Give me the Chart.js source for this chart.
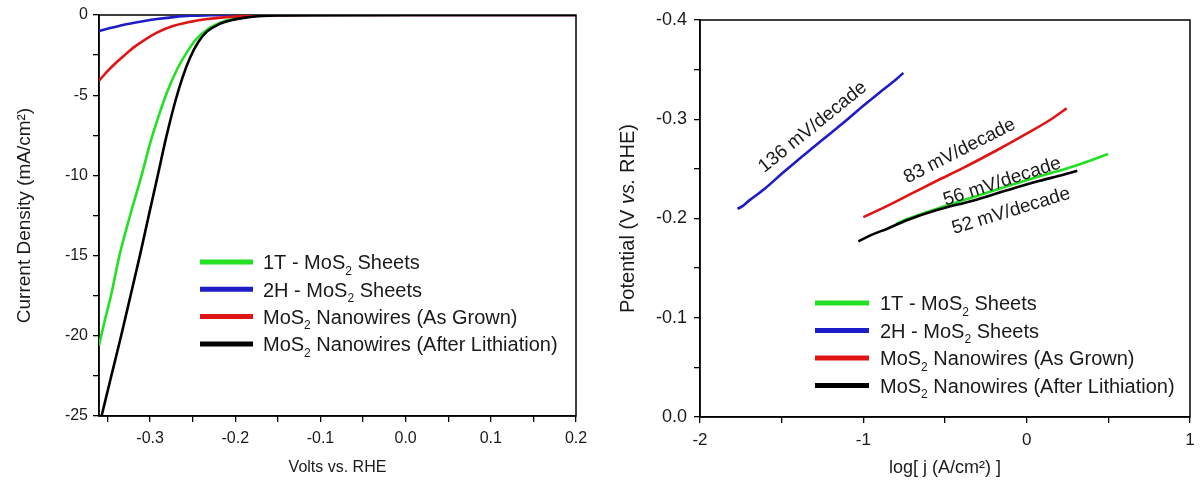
<!DOCTYPE html>
<html>
<head>
<meta charset="utf-8">
<script src="https://cdn.jsdelivr.net/npm/chart.js@4/dist/chart.umd.min.js"></script>
<style>
html,body{margin:0;padding:0;background:#fff;}
#wrap{position:relative;width:1203px;height:480px;overflow:hidden;background:#fff;}
.pane{position:absolute;top:0;height:480px;}
canvas{display:block;}
</style>
</head>
<body>
<div id="wrap">
  <div class="pane" style="left:0;width:600px"><canvas id="c1" width="600" height="480"></canvas></div>
  <div class="pane" style="left:600px;width:603px"><canvas id="c2" width="603" height="480"></canvas></div>
</div>
<script>
// ---------- DATA ----------
const seriesNames = ['1T - MoS₂ Sheets', '2H - MoS₂ Sheets', 'MoS₂ Nanowires (As Grown)', 'MoS₂ Nanowires (After Lithiation)'];

// Left panel: polarization curves [Volts vs RHE, mA/cm²]
const lsv1T = [[-0.36,-20.6],[-0.353,-19],[-0.346,-17.5],[-0.336,-15],[-0.3235,-12.5],[-0.31,-10],[-0.3,-8.0],[-0.29,-6.3],[-0.28,-4.8],[-0.268,-3.35],[-0.256,-2.25],[-0.245,-1.45],[-0.23,-0.8],[-0.214,-0.4],[-0.195,-0.18],[-0.174,-0.06],[-0.15,-0.02],[-0.1,0],[-0.005,0]];
const lsv2H = [[-0.36,-1.0],[-0.35,-0.86],[-0.332,-0.62],[-0.31,-0.4],[-0.292,-0.25],[-0.272,-0.13],[-0.253,-0.05],[-0.23,-0.02],[-0.2,0],[0.2,0]];
const lsvNWGrown = [[-0.36,-4.1],[-0.35,-3.5],[-0.34,-2.98],[-0.332,-2.6],[-0.32,-2.05],[-0.305,-1.5],[-0.292,-1.1],[-0.275,-0.72],[-0.253,-0.43],[-0.235,-0.27],[-0.214,-0.15],[-0.19,-0.07],[-0.16,-0.02],[-0.1,0],[0.2,0]];
const lsvNWLith = [[-0.357,-25],[-0.346,-22.6],[-0.334,-20],[-0.323,-17.5],[-0.312,-15],[-0.302,-12.6],[-0.291,-10],[-0.281,-7.6],[-0.27,-5.3],[-0.262,-3.9],[-0.253,-2.65],[-0.243,-1.65],[-0.233,-1.02],[-0.22,-0.6],[-0.206,-0.35],[-0.19,-0.18],[-0.174,-0.08],[-0.15,-0.03],[-0.1,-0.01],[0.0,0],[0.2,0]];

// Right panel: Tafel plots [log j, Potential V vs RHE]
const tafel1T = [[-0.8,-0.1945],[-0.73,-0.1995],[-0.5,-0.2125],[-0.3,-0.223],[-0.12,-0.2325],[0.1,-0.2435],[0.284,-0.2525],[0.4,-0.259],[0.498,-0.265]];
const tafel2H = [[-1.77,-0.2097],[-1.74,-0.2125],[-1.7,-0.218],[-1.6,-0.2305],[-1.5,-0.245],[-1.4,-0.259],[-1.3,-0.2725],[-1.2,-0.286],[-1.1,-0.2995],[-1.0,-0.3135],[-0.9,-0.327],[-0.8,-0.34],[-0.755,-0.3467]];
const tafelNWGrown = [[-1.0,-0.2014],[-0.85,-0.213],[-0.7,-0.2255],[-0.55,-0.238],[-0.4,-0.25],[-0.18,-0.269],[0.0,-0.2855],[0.15,-0.3],[0.245,-0.311]];
const tafelNWLith = [[-1.03,-0.177],[-0.95,-0.1835],[-0.85,-0.19],[-0.73,-0.1985],[-0.55,-0.2085],[-0.33,-0.218],[-0.12,-0.2285],[0.08,-0.238],[0.2,-0.243],[0.31,-0.248]];
const tafelSlopeLabels = ['56 mV/decade', '136 mV/decade', '83 mV/decade', '52 mV/decade'];

// Ticks
const lsvXMajor = [-0.3,-0.2,-0.1,0.0,0.1,0.2];
const lsvXMinor = [-0.35,-0.25,-0.15,-0.05,0.05,0.15];
const lsvYMajor = [0,-5,-10,-15,-20,-25];
const lsvYMinor = [-2.5,-7.5,-12.5,-17.5,-22.5];
const tafelXMajor = [-2,-1,0,1];
const tafelXMinor = [-1.5,-0.5,0.5];
const tafelYMajor = [-0.4,-0.3,-0.2,-0.1,0.0];
const tafelYMinor = [-0.35,-0.25,-0.15,-0.05];

// ---------- STYLE / HELPERS ----------
const seriesColors = ['#22e022', '#1c1cc8', '#e01414', '#000000'];
const FONT = '"Liberation Sans", Arial, Helvetica, sans-serif';
const TXT = '#1a1a1a';

function toXY(arr){ return arr.map(p => ({x:p[0], y:p[1]})); }
function tickList(major, minor){ return major.concat(minor).sort((a,b)=>a-b).map(v => ({value:v})); }
function isMajor(v, major){ return major.some(m => Math.abs(m - v) < 1e-9); }

function parseRich(text){
  const segs = []; let buf = '';
  for (const ch of text){
    if (ch === '₂'){ if (buf) segs.push({t:buf,k:'n'}); buf=''; segs.push({t:'2',k:'sub'}); }
    else if (ch === '²'){ if (buf) segs.push({t:buf,k:'n'}); buf=''; segs.push({t:'2',k:'sup'}); }
    else buf += ch;
  }
  if (buf) segs.push({t:buf,k:'n'});
  return segs;
}
function segFont(s, size){
  if (s.k === 'sub' || s.k === 'sup') return Math.round(size*0.62) + 'px ' + FONT;
  if (s.k === 'it') return 'italic ' + size + 'px ' + FONT;
  return size + 'px ' + FONT;
}
function drawSegments(ctx, segs, x, y, size, align){
  const widths = segs.map(s => { ctx.font = segFont(s,size); return ctx.measureText(s.t).width; });
  const total = widths.reduce((a,b)=>a+b,0);
  let cx = align === 'center' ? x - total/2 : x;
  ctx.textAlign = 'left';
  ctx.textBaseline = 'alphabetic';
  const base = y + size*0.36;
  segs.forEach((s,i) => {
    ctx.font = segFont(s,size);
    let dy = 0;
    if (s.k === 'sub') dy = size*0.28;
    if (s.k === 'sup') dy = -size*0.42;
    ctx.fillText(s.t, cx, base + dy);
    cx += widths[i];
  });
}

const framePlugin = {
  id: 'frame',
  beforeDatasetsDraw(chart){
    const {ctx, chartArea:a} = chart;
    ctx.save();
    ctx.strokeStyle = '#000';
    ctx.lineWidth = 1.5;
    ctx.strokeRect(a.left, a.top, a.right - a.left, a.bottom - a.top);
    ctx.restore();
  }
};

const richLegend = {
  id: 'richLegend',
  afterDraw(chart, args, opts){
    const ctx = chart.ctx;
    ctx.save();
    chart.data.datasets.forEach((ds, i) => {
      const y = opts.y0 + i*opts.dy;
      ctx.strokeStyle = ds.borderColor;
      ctx.lineWidth = 5;
      ctx.beginPath();
      ctx.moveTo(opts.x0, y);
      ctx.lineTo(opts.x1, y);
      ctx.stroke();
      ctx.fillStyle = TXT;
      drawSegments(ctx, parseRich(ds.label), opts.tx, y, opts.size, 'left');
    });
    ctx.restore();
  }
};

const slopeNotes = {
  id: 'slopeNotes',
  afterDatasetsDraw(chart, args, opts){
    const ctx = chart.ctx;
    const xs = chart.scales.x, ys = chart.scales.y;
    ctx.save();
    ctx.fillStyle = TXT;
    ctx.font = opts.size + 'px ' + FONT;
    ctx.textAlign = 'center';
    ctx.textBaseline = 'middle';
    opts.items.forEach(it => {
      ctx.save();
      ctx.translate(xs.getPixelForValue(it.x), ys.getPixelForValue(it.y));
      ctx.rotate(it.rot * Math.PI/180);
      ctx.fillText(it.text, 0, 0);
      ctx.restore();
    });
    ctx.restore();
  }
};

const potentialTitle = {
  id: 'potentialTitle',
  afterDraw(chart){
    const ctx = chart.ctx, a = chart.chartArea;
    ctx.save();
    ctx.fillStyle = TXT;
    ctx.translate(27, (a.top + a.bottom)/2);
    ctx.rotate(-Math.PI/2);
    drawSegments(ctx, [{t:'Potential (V ',k:'n'},{t:'vs.',k:'it'},{t:' RHE)',k:'n'}], 0, 0, 20, 'center');
    ctx.restore();
  }
};

function makeDatasets(arrs, widths){
  return arrs.map((arr, i) => ({
    label: seriesNames[i],
    data: toXY(arr),
    borderColor: seriesColors[i],
    backgroundColor: seriesColors[i],
    borderWidth: widths,
    pointRadius: 0,
    fill: false,
    cubicInterpolationMode: 'monotone',
    order: i === 3 ? 0 : 4 - i
  }));
}

function gridOpts(){
  return { display:true, drawOnChartArea:false, drawTicks:true, tickLength:6, color:'#000', tickColor:'#000', lineWidth:1.3, tickWidth:1.3 };
}

// ---------- LEFT CHART ----------
new Chart(document.getElementById('c1'), {
  type: 'line',
  data: { datasets: makeDatasets([lsv1T, lsv2H, lsvNWGrown, lsvNWLith], 2.6) },
  options: {
    responsive: false,
    animation: false,
    layout: { padding: { top: 15, right: 24, left: 0, bottom: 0 } },
    plugins: {
      legend: { display: false },
      tooltip: { enabled: false },
      richLegend: { x0: 200, x1: 253, tx: 263, y0: 262, dy: 27.3, size: 20 }
    },
    scales: {
      x: {
        type: 'linear', min: -0.36, max: 0.2,
        afterBuildTicks: s => { s.ticks = tickList(lsvXMajor, lsvXMinor); },
        afterFit: s => { s.height = 64; },
        ticks: { autoSkip:false, maxRotation:0, padding:7, color:TXT, font:{family:FONT,size:16},
                 callback: v => isMajor(v, lsvXMajor) ? (Math.abs(v) < 1e-9 ? '0.0' : v.toFixed(1)) : '' },
        grid: gridOpts(),
        border: { display:true, color:'#000', width:1.5 },
        title: { display:true, text:'Volts vs. RHE', color:TXT, font:{family:FONT,size:16}, padding:{top:0,bottom:3} }
      },
      y: {
        type: 'linear', min: -25, max: 0,
        afterBuildTicks: s => { s.ticks = tickList(lsvYMajor, lsvYMinor); },
        afterFit: s => { s.width = 99; },
        ticks: { autoSkip:false, padding:5, color:TXT, font:{family:FONT,size:16},
                 callback: v => isMajor(v, lsvYMajor) ? String(Math.round(v)) : '' },
        grid: gridOpts(),
        border: { display:true, color:'#000', width:1.5 },
        title: { display:true, text:'Current Density (mA/cm²)', color:TXT, font:{family:FONT,size:19}, padding:{top:13,bottom:0} }
      }
    }
  },
  plugins: [framePlugin, richLegend]
});

// ---------- RIGHT CHART ----------
new Chart(document.getElementById('c2'), {
  type: 'line',
  data: { datasets: makeDatasets([tafel1T, tafel2H, tafelNWGrown, tafelNWLith], 2.6) },
  options: {
    responsive: false,
    animation: false,
    layout: { padding: { top: 20, right: 13, left: 0, bottom: 0 } },
    plugins: {
      legend: { display: false },
      tooltip: { enabled: false },
      richLegend: { x0: 215, x1: 269, tx: 280, y0: 303, dy: 27.5, size: 20 },
      slopeNotes: { size: 19, items: [
        { text: tafelSlopeLabels[1], x: -1.31, y: -0.292, rot: -39 },
        { text: tafelSlopeLabels[2], x: -0.41, y: -0.268, rot: -27 },
        { text: tafelSlopeLabels[0], x: -0.15, y: -0.237, rot: -18 },
        { text: tafelSlopeLabels[3], x: -0.095, y: -0.2075, rot: -17 }
      ] }
    },
    scales: {
      x: {
        type: 'linear', min: -2, max: 1,
        afterBuildTicks: s => { s.ticks = tickList(tafelXMajor, tafelXMinor); },
        afterFit: s => { s.height = 63; },
        ticks: { autoSkip:false, maxRotation:0, padding:7, color:TXT, font:{family:FONT,size:17},
                 callback: v => isMajor(v, tafelXMajor) ? String(Math.round(v)) : '' },
        grid: gridOpts(),
        border: { display:true, color:'#000', width:1.5 },
        title: { display:true, text:'log[ j (A/cm²) ]', color:TXT, font:{family:FONT,size:18}, padding:{top:0,bottom:1} }
      },
      y: {
        type: 'linear', min: -0.4, max: 0, reverse: true,
        afterBuildTicks: s => { s.ticks = tickList(tafelYMajor, tafelYMinor); },
        afterFit: s => { s.width = 100; },
        ticks: { autoSkip:false, padding:7, color:TXT, font:{family:FONT,size:18},
                 callback: v => isMajor(v, tafelYMajor) ? (Math.abs(v) < 1e-9 ? '0.0' : v.toFixed(1)) : '' },
        grid: gridOpts(),
        border: { display:true, color:'#000', width:1.5 },
        title: { display:false }
      }
    }
  },
  plugins: [framePlugin, richLegend, slopeNotes, potentialTitle]
});
</script>
</body>
</html>
